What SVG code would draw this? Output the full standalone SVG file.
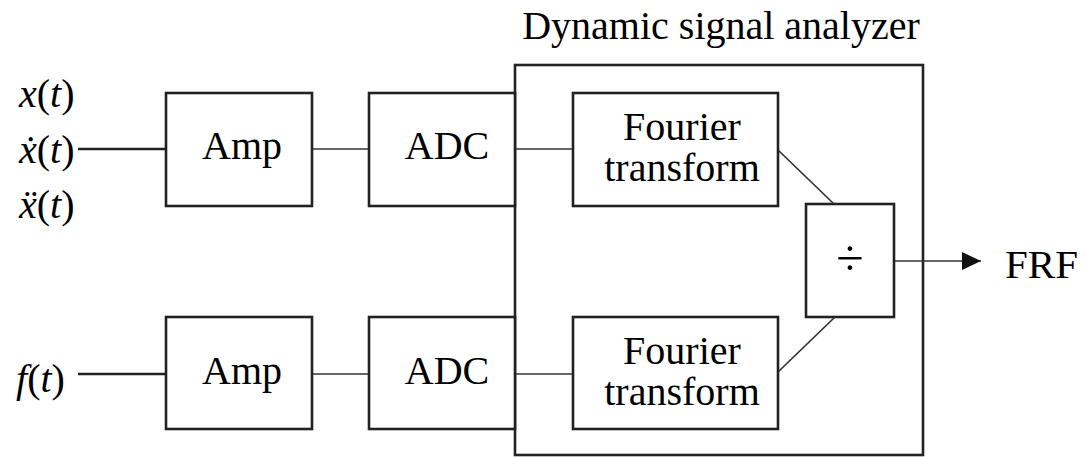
<svg xmlns="http://www.w3.org/2000/svg" width="1086" height="457" viewBox="0 0 1086 457">
<defs>
<marker id="arr" markerWidth="20" markerHeight="18" refX="19" refY="9" orient="auto" markerUnits="userSpaceOnUse">
<path d="M0,0 L19,9 L0,18 Z" fill="#111"/>
</marker>
</defs>
<rect width="1086" height="457" fill="#fff"/>
<g id="analyzer">
<rect x="515" y="65" width="408" height="390" fill="none" stroke="#222" stroke-width="2.6"/>
<text x="721" y="39" font-family="Liberation Serif" style="font-family:'Liberation Serif',serif !important" font-size="40" text-anchor="middle">Dynamic signal analyzer</text>
</g>
<g id="connectors" fill="none" stroke="#333" stroke-width="1.7">
<line x1="78" y1="149" x2="166" y2="149" stroke="#222" stroke-width="2.4"/>
<line x1="78" y1="374" x2="166" y2="374" stroke="#222" stroke-width="2.4"/>
<line x1="312" y1="149" x2="369" y2="149"/>
<line x1="312" y1="374" x2="369" y2="374"/>
<line x1="515" y1="149" x2="573" y2="149"/>
<line x1="515" y1="374" x2="573" y2="374"/>
<line x1="778" y1="150" x2="834" y2="204"/>
<line x1="778" y1="372" x2="835" y2="317"/>
<line x1="894" y1="261" x2="981" y2="261" marker-end="url(#arr)"/>
</g>
<g id="label-x"><text x="19" y="107" font-family="Liberation Serif" style="font-family:'Liberation Serif',serif !important" font-size="40"><tspan font-style="italic">x</tspan>(<tspan font-style="italic">t</tspan>)</text></g>
<g id="label-xdot"><text x="19" y="163" font-family="Liberation Serif" style="font-family:'Liberation Serif',serif !important" font-size="40"><tspan font-style="italic">&#x1E8B;</tspan>(<tspan font-style="italic">t</tspan>)</text></g>
<g id="label-xddot"><text x="19" y="218" font-family="Liberation Serif" style="font-family:'Liberation Serif',serif !important" font-size="40"><tspan font-style="italic">&#x1E8D;</tspan>(<tspan font-style="italic">t</tspan>)</text></g>
<g id="label-f"><text x="16" y="392" font-family="Liberation Serif" style="font-family:'Liberation Serif',serif !important" font-size="40"><tspan font-style="italic">f</tspan>(<tspan font-style="italic">t</tspan>)</text></g>
<g id="amp1"><rect x="166" y="93" width="146" height="113" fill="#fff" stroke="#222" stroke-width="2.6"/><text x="242" y="159" font-family="Liberation Serif" style="font-family:'Liberation Serif',serif !important" font-size="40" text-anchor="middle">Amp</text></g>
<g id="adc1"><rect x="369" y="93" width="146" height="113" fill="#fff" stroke="#222" stroke-width="2.6"/><text x="447" y="159" font-family="Liberation Serif" style="font-family:'Liberation Serif',serif !important" font-size="40" text-anchor="middle">ADC</text></g>
<g id="ft1"><rect x="573" y="93" width="205" height="113" fill="#fff" stroke="#222" stroke-width="2.6"/><text x="682" y="140" font-family="Liberation Serif" style="font-family:'Liberation Serif',serif !important" font-size="40" text-anchor="middle">Fourier</text><text x="682" y="181" font-family="Liberation Serif" style="font-family:'Liberation Serif',serif !important" font-size="40" text-anchor="middle">transform</text></g>
<g id="amp2"><rect x="166" y="317" width="146" height="112" fill="#fff" stroke="#222" stroke-width="2.6"/><text x="242" y="384" font-family="Liberation Serif" style="font-family:'Liberation Serif',serif !important" font-size="40" text-anchor="middle">Amp</text></g>
<g id="adc2"><rect x="369" y="317" width="146" height="112" fill="#fff" stroke="#222" stroke-width="2.6"/><text x="447" y="384" font-family="Liberation Serif" style="font-family:'Liberation Serif',serif !important" font-size="40" text-anchor="middle">ADC</text></g>
<g id="ft2"><rect x="573" y="317" width="205" height="112" fill="#fff" stroke="#222" stroke-width="2.6"/><text x="682" y="364" font-family="Liberation Serif" style="font-family:'Liberation Serif',serif !important" font-size="40" text-anchor="middle">Fourier</text><text x="682" y="405" font-family="Liberation Serif" style="font-family:'Liberation Serif',serif !important" font-size="40" text-anchor="middle">transform</text></g>
<g id="divide"><rect x="806" y="204" width="88" height="113" fill="#fff" stroke="#222" stroke-width="2.6"/><text x="850" y="275" font-family="Liberation Serif" style="font-family:'Liberation Serif',serif !important" font-size="50" text-anchor="middle">&#xF7;</text></g>
<g id="frf"><text x="1005" y="278" font-family="Liberation Serif" style="font-family:'Liberation Serif',serif !important" font-size="41">FRF</text></g>
</svg>
